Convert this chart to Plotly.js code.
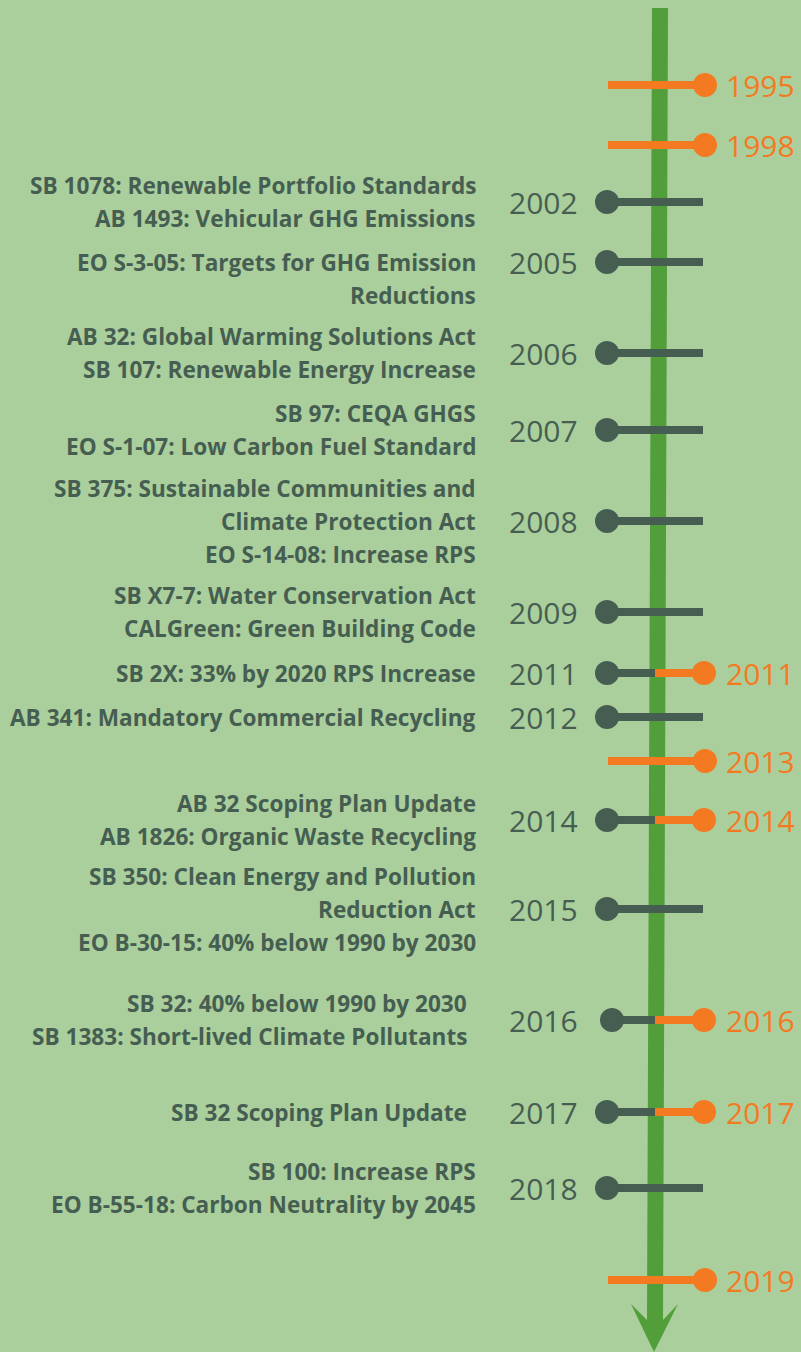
<!DOCTYPE html>
<html>
<head>
<meta charset="utf-8">
<script src="https://cdn.plot.ly/plotly-3.0.1.min.js"></script>
<style>html,body{margin:0;padding:0;background:#aacf9d;}</style>
</head>
<body>
<div id="chart" style="width:801px;height:1352px;"></div>
<script>
// ---- data ----
// State (left, gray) milestones
var stateYears = [2002, 2005, 2006, 2007, 2008, 2009, 2011, 2012, 2014, 2015, 2016, 2017, 2018];
// vertical slot on the timeline for each state milestone
var stateRow = [202, 262, 353, 430, 521, 612, 673, 717, 820, 909, 1020, 1112, 1188];
var stateLabels = [
  ["SB 1078: Renewable Portfolio Standards", "AB 1493: Vehicular GHG Emissions"],
  ["EO S-3-05: Targets for GHG Emission", "Reductions"],
  ["AB 32: Global Warming Solutions Act", "SB 107: Renewable Energy Increase"],
  ["SB 97: CEQA GHGS", "EO S-1-07: Low Carbon Fuel Standard"],
  ["SB 375: Sustainable Communities and", "Climate Protection Act", "EO S-14-08: Increase RPS"],
  ["SB X7-7: Water Conservation Act", "CALGreen: Green Building Code"],
  ["SB 2X: 33% by 2020 RPS Increase"],
  ["AB 341: Mandatory Commercial Recycling"],
  ["AB 32 Scoping Plan Update", "AB 1826: Organic Waste Recycling"],
  ["SB 350: Clean Energy and Pollution", "Reduction Act", "EO B-30-15: 40% below 1990 by 2030"],
  ["SB 32: 40% below 1990 by 2030", "SB 1383: Short-lived Climate Pollutants"],
  ["SB 32 Scoping Plan Update"],
  ["SB 100: Increase RPS", "EO B-55-18: Carbon Neutrality by 2045"]
];
// Right (orange) milestones
var otherYears = [1995, 1998, 2011, 2013, 2014, 2016, 2017, 2019];
var otherRow = [85, 145, 673, 761, 820, 1020, 1112, 1280];

// ---- style / layout constants ----
var BG = '#aacf9d', GRAY = '#465e51', ORANGE = '#f47a22', GREEN = '#529e3a';
var AXIS_X = 655;          // centre of timeline arrow
var LEFT_DOT = 607, RIGHT_DOT = 705, LINE_END_L = 608, LINE_END_R = 703;
var LINE_GAP = 33;

var traces = [];
var annotations = [];

// gray stems
var gx = [], gy = [], dx = [], dy = [];
stateYears.forEach(function (yr, i) {
  var both = otherYears.indexOf(yr) >= 0;
  var dotX = (yr === 2016) ? 612 : LEFT_DOT;
  gx.push(dotX, both ? AXIS_X : LINE_END_R, null);
  gy.push(stateRow[i], stateRow[i], null);
  dx.push(dotX); dy.push(stateRow[i]);
});
// orange stems
var ox = [], oy = [], odx = [], ody = [];
otherYears.forEach(function (yr, i) {
  var both = stateYears.indexOf(yr) >= 0;
  ox.push(both ? AXIS_X : LINE_END_L, RIGHT_DOT, null);
  oy.push(otherRow[i], otherRow[i], null);
  odx.push(RIGHT_DOT - (both ? 1 : 0)); ody.push(otherRow[i]);
});

traces.push({x: gx, y: gy, mode: 'lines', line: {color: GRAY, width: 8}, hoverinfo: 'skip', showlegend: false});
traces.push({x: ox, y: oy, mode: 'lines', line: {color: ORANGE, width: 8}, hoverinfo: 'skip', showlegend: false});
traces.push({x: dx, y: dy, mode: 'markers', marker: {color: GRAY, size: 24}, hoverinfo: 'skip', showlegend: false});
traces.push({x: odx, y: ody, mode: 'markers', marker: {color: ORANGE, size: 24}, hoverinfo: 'skip', showlegend: false});

// year labels
stateYears.forEach(function (yr, i) {
  annotations.push({x: 580, y: stateRow[i], xref: 'x', yref: 'y', text: String(yr), showarrow: false,
    xanchor: 'right', yanchor: 'middle', font: {family: '"Open Sans", Roboto, sans-serif', size: 30, color: GRAY}});
});
otherYears.forEach(function (yr, i) {
  annotations.push({x: 724, y: otherRow[i], xref: 'x', yref: 'y', text: String(yr), showarrow: false,
    xanchor: 'left', yanchor: 'middle', font: {family: '"Open Sans", Roboto, sans-serif', size: 30, color: ORANGE}});
});
// descriptions
stateLabels.forEach(function (lines, i) {
  var anchor = (stateYears[i] === 2005) ? 0 : (lines.length - 1) / 2;
  var right = (stateYears[i] === 2016 || stateYears[i] === 2017) ? 469 : 478;
  lines.forEach(function (t, j) {
    annotations.push({x: right, y: stateRow[i] + (j - anchor) * LINE_GAP, xref: 'x', yref: 'y', text: t,
      showarrow: false, xanchor: 'right', yanchor: 'middle',
      font: {family: '"Open Sans", Lato, sans-serif', size: 22.6, color: GRAY, weight: 700}});
  });
});

var layout = {
  width: 801, height: 1352,
  margin: {l: 0, r: 0, t: 0, b: 0},
  paper_bgcolor: BG, plot_bgcolor: BG,
  xaxis: {range: [0, 801], visible: false, fixedrange: true},
  yaxis: {range: [1352, 0], visible: false, fixedrange: true},
  showlegend: false,
  annotations: annotations,
  shapes: [{
    type: 'path', xref: 'x', yref: 'y', layer: 'below',
    path: 'M652,8 L668,8 L663,1320 L678,1304 L654,1352 L631,1304 L647,1320 Z',
    fillcolor: GREEN, line: {width: 0}
  }]
};

Plotly.newPlot('chart', traces, layout, {staticPlot: true, displayModeBar: false});
</script>
</body>
</html>
